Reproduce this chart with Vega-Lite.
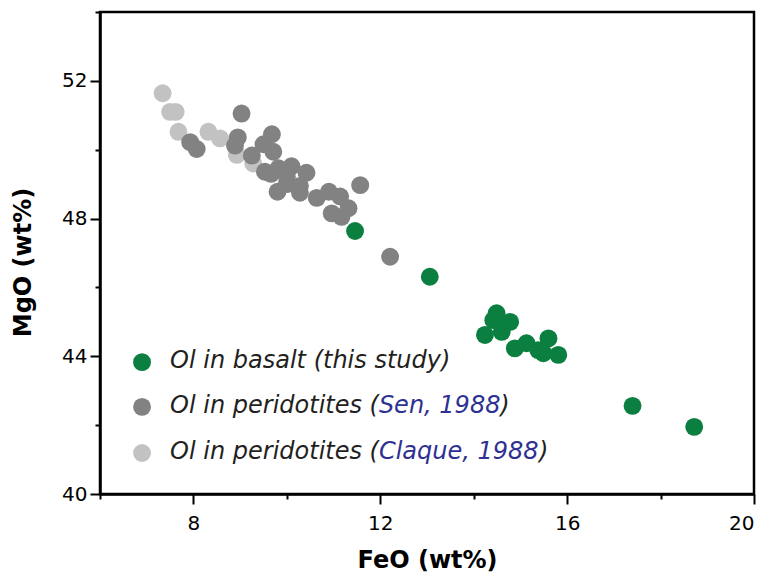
{
  "$schema": "https://vega.github.io/schema/vega-lite/v6.json",
  "width": 654,
  "height": 482,
  "autosize": "none",
  "padding": {"left": 100, "top": 12, "right": 20, "bottom": 86},
  "background": "white",
  "config": {
    "view": {"stroke": "black", "strokeWidth": 2.5},
    "axis": {
      "grid": false,
      "domainColor": "black",
      "domainWidth": 2.5,
      "tickColor": "black",
      "tickWidth": 2,
      "labelFont": "DejaVu Sans",
      "labelFontSize": 20,
      "labelColor": "black",
      "titleFont": "DejaVu Sans",
      "titleFontSize": 24,
      "titleFontWeight": "bold",
      "titleColor": "black"
    }
  },
  "layer": [
    {
      "data": {
        "values": [
          {"series": "Claque", "FeO": 7.34, "MgO": 51.64},
          {"series": "Claque", "FeO": 7.5, "MgO": 51.1},
          {"series": "Claque", "FeO": 7.62, "MgO": 51.1},
          {"series": "Claque", "FeO": 7.68, "MgO": 50.52},
          {"series": "Claque", "FeO": 8.32, "MgO": 50.52},
          {"series": "Claque", "FeO": 8.57, "MgO": 50.33},
          {"series": "Claque", "FeO": 8.93, "MgO": 49.85},
          {"series": "Claque", "FeO": 9.28, "MgO": 49.6},
          {"series": "Sen", "FeO": 7.93, "MgO": 50.22},
          {"series": "Sen", "FeO": 8.07, "MgO": 50.02},
          {"series": "Sen", "FeO": 9.03, "MgO": 51.05},
          {"series": "Sen", "FeO": 8.95, "MgO": 50.36},
          {"series": "Sen", "FeO": 8.89, "MgO": 50.12},
          {"series": "Sen", "FeO": 9.25, "MgO": 49.83},
          {"series": "Sen", "FeO": 9.5, "MgO": 50.16},
          {"series": "Sen", "FeO": 9.68, "MgO": 50.45},
          {"series": "Sen", "FeO": 9.71, "MgO": 49.94},
          {"series": "Sen", "FeO": 9.53, "MgO": 49.36},
          {"series": "Sen", "FeO": 9.66, "MgO": 49.3},
          {"series": "Sen", "FeO": 9.82, "MgO": 49.46},
          {"series": "Sen", "FeO": 10.1, "MgO": 49.52},
          {"series": "Sen", "FeO": 10.42, "MgO": 49.33},
          {"series": "Sen", "FeO": 9.8, "MgO": 48.78},
          {"series": "Sen", "FeO": 10.0, "MgO": 49.0},
          {"series": "Sen", "FeO": 10.0, "MgO": 49.22},
          {"series": "Sen", "FeO": 10.28, "MgO": 48.75},
          {"series": "Sen", "FeO": 10.28, "MgO": 48.95},
          {"series": "Sen", "FeO": 10.64, "MgO": 48.6},
          {"series": "Sen", "FeO": 10.9, "MgO": 48.78},
          {"series": "Sen", "FeO": 11.14, "MgO": 48.64},
          {"series": "Sen", "FeO": 11.32, "MgO": 48.3},
          {"series": "Sen", "FeO": 10.96, "MgO": 48.15},
          {"series": "Sen", "FeO": 11.17, "MgO": 48.05},
          {"series": "Sen", "FeO": 11.57, "MgO": 48.97},
          {"series": "Sen", "FeO": 12.21, "MgO": 46.89},
          {"series": "Basalt", "FeO": 11.46, "MgO": 47.64},
          {"series": "Basalt", "FeO": 13.06, "MgO": 46.31},
          {"series": "Basalt", "FeO": 14.49, "MgO": 45.25},
          {"series": "Basalt", "FeO": 14.42, "MgO": 45.05},
          {"series": "Basalt", "FeO": 14.78, "MgO": 45.0},
          {"series": "Basalt", "FeO": 14.24, "MgO": 44.62},
          {"series": "Basalt", "FeO": 14.6, "MgO": 44.71},
          {"series": "Basalt", "FeO": 14.88, "MgO": 44.23},
          {"series": "Basalt", "FeO": 15.13, "MgO": 44.38},
          {"series": "Basalt", "FeO": 15.6, "MgO": 44.52},
          {"series": "Basalt", "FeO": 15.49, "MgO": 44.09},
          {"series": "Basalt", "FeO": 15.38, "MgO": 44.18},
          {"series": "Basalt", "FeO": 15.81, "MgO": 44.04},
          {"series": "Basalt", "FeO": 17.4, "MgO": 42.56},
          {"series": "Basalt", "FeO": 18.72, "MgO": 41.95}
        ]
      },
      "mark": {"type": "circle", "size": 320, "opacity": 1},
      "encoding": {
        "x": {
          "field": "FeO", "type": "quantitative",
          "scale": {"domain": [6, 20], "nice": false, "zero": false},
          "axis": {
            "title": "FeO (wt%)",
            "values": [6, 8, 10, 12, 14, 16, 18, 20],
            "labelExpr": "datum.value % 4 === 0 ? datum.label : ''",
            "tickSize": {"condition": {"test": "datum.value % 4 === 0", "value": 10}, "value": 5},
            "labelPadding": 9,
            "titleY": 66,
            "titleBaseline": "middle"
          }
        },
        "y": {
          "field": "MgO", "type": "quantitative",
          "scale": {"domain": [40, 54], "nice": false, "zero": false},
          "axis": {
            "title": "MgO (wt%)",
            "values": [40, 42, 44, 46, 48, 50, 52, 54],
            "labelExpr": "datum.value % 4 === 0 ? datum.label : ''",
            "tickSize": {"condition": {"test": "datum.value % 4 === 0", "value": 10}, "value": 5},
            "labelPadding": 3,
            "titleX": -77,
            "titleY": 250,
            "titleAngle": -90,
            "titleAlign": "center",
            "titleBaseline": "middle"
          }
        },
        "color": {
          "field": "series", "type": "nominal",
          "scale": {"domain": ["Basalt", "Sen", "Claque"], "range": ["#0a7f3f", "#828282", "#c2c2c2"]},
          "legend": null
        }
      }
    },
    {
      "data": {"values": [{}]},
      "mark": {"type": "circle", "size": 320, "opacity": 1, "color": "#0a7f3f"},
      "encoding": {"x": {"datum": 6.9}, "y": {"datum": 43.83}}
    },
    {
      "data": {"values": [{}]},
      "mark": {"type": "circle", "size": 320, "opacity": 1, "color": "#828282"},
      "encoding": {"x": {"datum": 6.9}, "y": {"datum": 42.53}}
    },
    {
      "data": {"values": [{}]},
      "mark": {"type": "circle", "size": 320, "opacity": 1, "color": "#c2c2c2"},
      "encoding": {"x": {"datum": 6.9}, "y": {"datum": 41.19}}
    },
    {
      "data": {"values": [{"t": "Ol in basalt (this study)"}]},
      "mark": {"type": "text", "font": "DejaVu Sans", "fontStyle": "italic", "fontSize": 24, "align": "left", "baseline": "middle", "color": "#231f20"},
      "encoding": {"x": {"datum": 7.5}, "y": {"datum": 43.86}, "text": {"field": "t"}}
    },
    {
      "data": {"values": [{"t": "Ol in peridotites ("}]},
      "mark": {"type": "text", "font": "DejaVu Sans", "fontStyle": "italic", "fontSize": 24, "align": "left", "baseline": "middle", "color": "#231f20"},
      "encoding": {"x": {"datum": 7.5}, "y": {"datum": 42.56}, "text": {"field": "t"}}
    },
    {
      "data": {"values": [{"t": "Sen, 1988"}]},
      "mark": {"type": "text", "font": "DejaVu Sans", "fontStyle": "italic", "fontSize": 24, "align": "left", "baseline": "middle", "color": "#2e3192"},
      "encoding": {"x": {"datum": 11.97}, "y": {"datum": 42.56}, "text": {"field": "t"}}
    },
    {
      "data": {"values": [{"t": ")"}]},
      "mark": {"type": "text", "font": "DejaVu Sans", "fontStyle": "italic", "fontSize": 24, "align": "left", "baseline": "middle", "color": "#231f20"},
      "encoding": {"x": {"datum": 14.57}, "y": {"datum": 42.56}, "text": {"field": "t"}}
    },
    {
      "data": {"values": [{"t": "Ol in peridotites ("}]},
      "mark": {"type": "text", "font": "DejaVu Sans", "fontStyle": "italic", "fontSize": 24, "align": "left", "baseline": "middle", "color": "#231f20"},
      "encoding": {"x": {"datum": 7.5}, "y": {"datum": 41.22}, "text": {"field": "t"}}
    },
    {
      "data": {"values": [{"t": "Claque, 1988"}]},
      "mark": {"type": "text", "font": "DejaVu Sans", "fontStyle": "italic", "fontSize": 24, "align": "left", "baseline": "middle", "color": "#2e3192"},
      "encoding": {"x": {"datum": 11.97}, "y": {"datum": 41.22}, "text": {"field": "t"}}
    },
    {
      "data": {"values": [{"t": ")"}]},
      "mark": {"type": "text", "font": "DejaVu Sans", "fontStyle": "italic", "fontSize": 24, "align": "left", "baseline": "middle", "color": "#231f20"},
      "encoding": {"x": {"datum": 15.4}, "y": {"datum": 41.22}, "text": {"field": "t"}}
    }
  ]
}
